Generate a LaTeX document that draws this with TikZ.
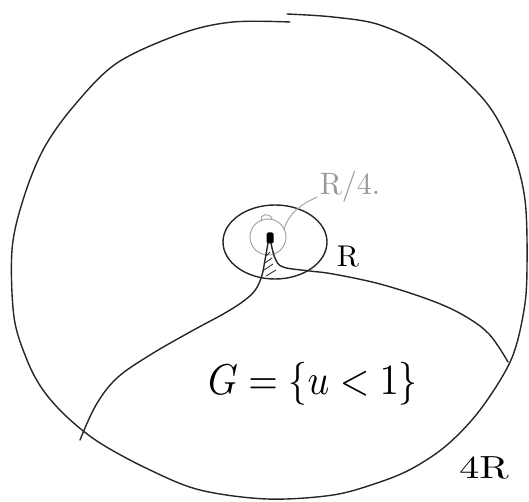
\documentclass[tikz,border=0pt]{standalone}
\usepackage{fontspec}
\begin{document}
\begin{tikzpicture}[x=1pt,y=-1pt,
  pen/.style={line width=1.4pt,line cap=round,line join=round,black!85},
  graypen/.style={line width=1pt,line cap=round,gray!70},
  lab/.style={inner sep=0pt}]
\useasboundingbox (0,0) rectangle (529,502);
% big disc (radius 4R)
\draw[pen] plot[smooth,tension=0.55] coordinates{(287,14) (333,17) (380,25) (430,50) (485,101) (512,150) (525,200) (527,267) (524,310) (511,360) (480,410) (447,445) (413,468) (380,482) (333,495) (267,499) (200,490) (150,470) (100,443) (67,417) (43,390) (27,360) (14,317) (12,250) (23,200) (43,150) (73,107) (117,63) (183,33) (233,22) (290,22)};
% disc of radius R
\draw[pen] (275,242) ellipse [x radius=52, y radius=37];
% disc of radius R/4
\draw[graypen] (268,237) circle [radius=18];
\draw[graypen] (262,221) .. controls (258,214) and (270,212) .. (272,219);
% centre
\node[fill=black, rounded corners=1.5pt, minimum width=7pt, minimum height=11pt, inner sep=0pt] (dot) at (270,238) {};
% curves bounding G
\coordinate (lend) at (80,440);
\coordinate (rend) at (508,362);
\draw[pen] (dot.south) plot[smooth,tension=0.6] coordinates{(268,243) (265,260) (262,275) (256,289) (245,300) (225,313) (190,332) (150,355) (117,378) (96,405) (lend)};
\draw[pen] (dot.south) plot[smooth,tension=0.6] coordinates{(271,243) (275,258) (283,267) (310,271) (333,274) (380,284) (430,300) (463,315) (489,334) (rend)};
% hatching
\draw[line width=0.9pt,black!80] (266,256) -- (270,252) (265,263) -- (272,258) (264,270) -- (273,264) (266,276) -- (276,270);
% labels
\node[lab,text=gray!80] (rq) at (350,187) {\scalebox{3}[3.1]{R/4.}};
\draw[graypen] (284,229) .. controls (290,212) and (300,205) .. (317,197);
\node[lab] (rlab) at (348,257) {\scalebox{3}[3]{R}};
\node[lab] (glab) at (313,384) {\scalebox{3.8}[4.3]{$G=\{u<1\}$}};
\node[lab] (four) at (484,468) {\scalebox{4}[3.2]{4R}};
\end{tikzpicture}
\end{document}
